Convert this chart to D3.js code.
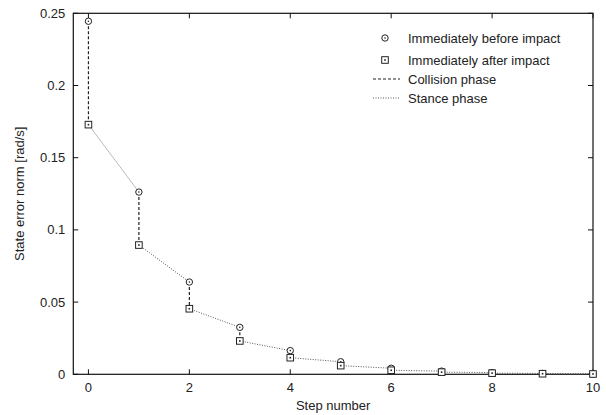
<!DOCTYPE html>
<html><head><meta charset="utf-8">
<script src="https://cdn.jsdelivr.net/npm/d3@7"></script>
<style>body{margin:0;background:#fff}svg{display:block}text{font-family:"Liberation Sans",Arial,sans-serif;fill:#222}</style>
</head><body><svg id="c" width="606" height="415"></svg>
<script>
const steps = [0,1,2,3,4,5,6,7,8,9,10];
const beforeImpact = [0.2445,0.1262,0.0639,0.0325,0.0164,0.0087,0.0042,0.0022,0.0012,0.0006,0.0003];
const afterImpact  = [0.1729,0.0895,0.0454,0.0231,0.0115,0.0060,0.0028,0.0015,0.0008,0.0004,0.0002];
const xTicks = [0,2,4,6,8,10];
const yTicks = [0,0.05,0.1,0.15,0.2,0.25];
const legendLabels = ["Immediately before impact","Immediately after impact","Collision phase","Stance phase"];

const svg = d3.select("#c");
const L=73.3, R=593, T=13.3, B=374.3;
const x = d3.scaleLinear().domain([-0.3,10]).range([L,R]);
const y = d3.scaleLinear().domain([0,0.25]).range([B,T]);

// frame
svg.append("rect").attr("x",L).attr("y",T).attr("width",R-L).attr("height",B-T)
  .attr("fill","none").attr("stroke","#111").attr("stroke-width",1.2);

const tl=5;
const g = svg.append("g");
xTicks.forEach(t=>{
  g.append("line").attr("x1",x(t)).attr("x2",x(t)).attr("y1",B).attr("y2",B-tl).attr("stroke","#111");
  g.append("line").attr("x1",x(t)).attr("x2",x(t)).attr("y1",T).attr("y2",T+tl).attr("stroke","#111");
  g.append("text").attr("x",x(t)).attr("y",B+18).attr("text-anchor","middle").attr("font-size",13).text(d3.format("d")(t));
});
yTicks.forEach(t=>{
  g.append("line").attr("x1",L).attr("x2",L+tl).attr("y1",y(t)).attr("y2",y(t)).attr("stroke","#111");
  g.append("line").attr("x1",R).attr("x2",R-tl).attr("y1",y(t)).attr("y2",y(t)).attr("stroke","#111");
  g.append("text").attr("x",L-8).attr("y",y(t)+4.5).attr("text-anchor","end").attr("font-size",13).text(t===0?"0":String(t));
});
svg.append("text").attr("x",(L+R)/2).attr("y",410).attr("text-anchor","middle").attr("font-size",13).text("Step number");
svg.append("text").attr("transform",`translate(24,${(T+B)/2}) rotate(-90)`).attr("text-anchor","middle").attr("font-size",13).text("State error norm [rad/s]");

// stance phase lines: after(i) -> before(i+1), and final after
const stancePts = [];
steps.forEach((s,i)=>{
  if(i>0) stancePts.push([s,beforeImpact[i]]);
  stancePts.push(null);
});
for(let i=0;i<steps.length-1;i++){
  svg.append("path").attr("d",d3.line().x(d=>x(d[0])).y(d=>y(d[1]))([[steps[i],afterImpact[i]],[steps[i+1],beforeImpact[i+1]]]))
    .attr("fill","none").attr("stroke","#555").attr("stroke-width",1).attr("stroke-dasharray","1,1.5");
}
svg.append("path").attr("d",d3.line().x(d=>x(d[0])).y(d=>y(d[1]))([[steps[9],afterImpact[9]],[steps[10],afterImpact[10]]]))
    .attr("fill","none").attr("stroke","#555").attr("stroke-width",1).attr("stroke-dasharray","1,1.5");
// collision lines
steps.forEach((s,i)=>{
  svg.append("line").attr("x1",x(s)).attr("x2",x(s)).attr("y1",y(beforeImpact[i])).attr("y2",y(afterImpact[i]))
    .attr("stroke","#222").attr("stroke-width",1.2).attr("stroke-dasharray","3,2");
});
// markers
function circ(cx,cy){
  svg.append("circle").attr("cx",cx).attr("cy",cy).attr("r",3.2).attr("fill","#fff").attr("stroke","#222").attr("stroke-width",1);
  svg.append("circle").attr("cx",cx).attr("cy",cy).attr("r",0.8).attr("fill","#222");
}
function sq(cx,cy){
  svg.append("rect").attr("x",cx-3.3).attr("y",cy-3.3).attr("width",6.6).attr("height",6.6).attr("fill","#fff").attr("stroke","#222").attr("stroke-width",1);
  svg.append("rect").attr("x",cx-0.8).attr("y",cy-0.8).attr("width",1.6).attr("height",1.6).attr("fill","#222");
}
steps.forEach((s,i)=>{ circ(x(s),y(beforeImpact[i])); });
steps.forEach((s,i)=>{ sq(x(s),y(afterImpact[i])); });

// legend
const lx=408, ly=[38,60,79,98];
circ(385,ly[0]); sq(385,ly[1]);
svg.append("line").attr("x1",373).attr("x2",400).attr("y1",ly[2]).attr("y2",ly[2]).attr("stroke","#222").attr("stroke-dasharray","3,2");
svg.append("line").attr("x1",373).attr("x2",400).attr("y1",ly[3]).attr("y2",ly[3]).attr("stroke","#555").attr("stroke-dasharray","1,1.5");
legendLabels.forEach((t,i)=>{
  svg.append("text").attr("x",lx).attr("y",ly[i]+4.5).attr("font-size",13).text(t);
});
</script></body></html>
